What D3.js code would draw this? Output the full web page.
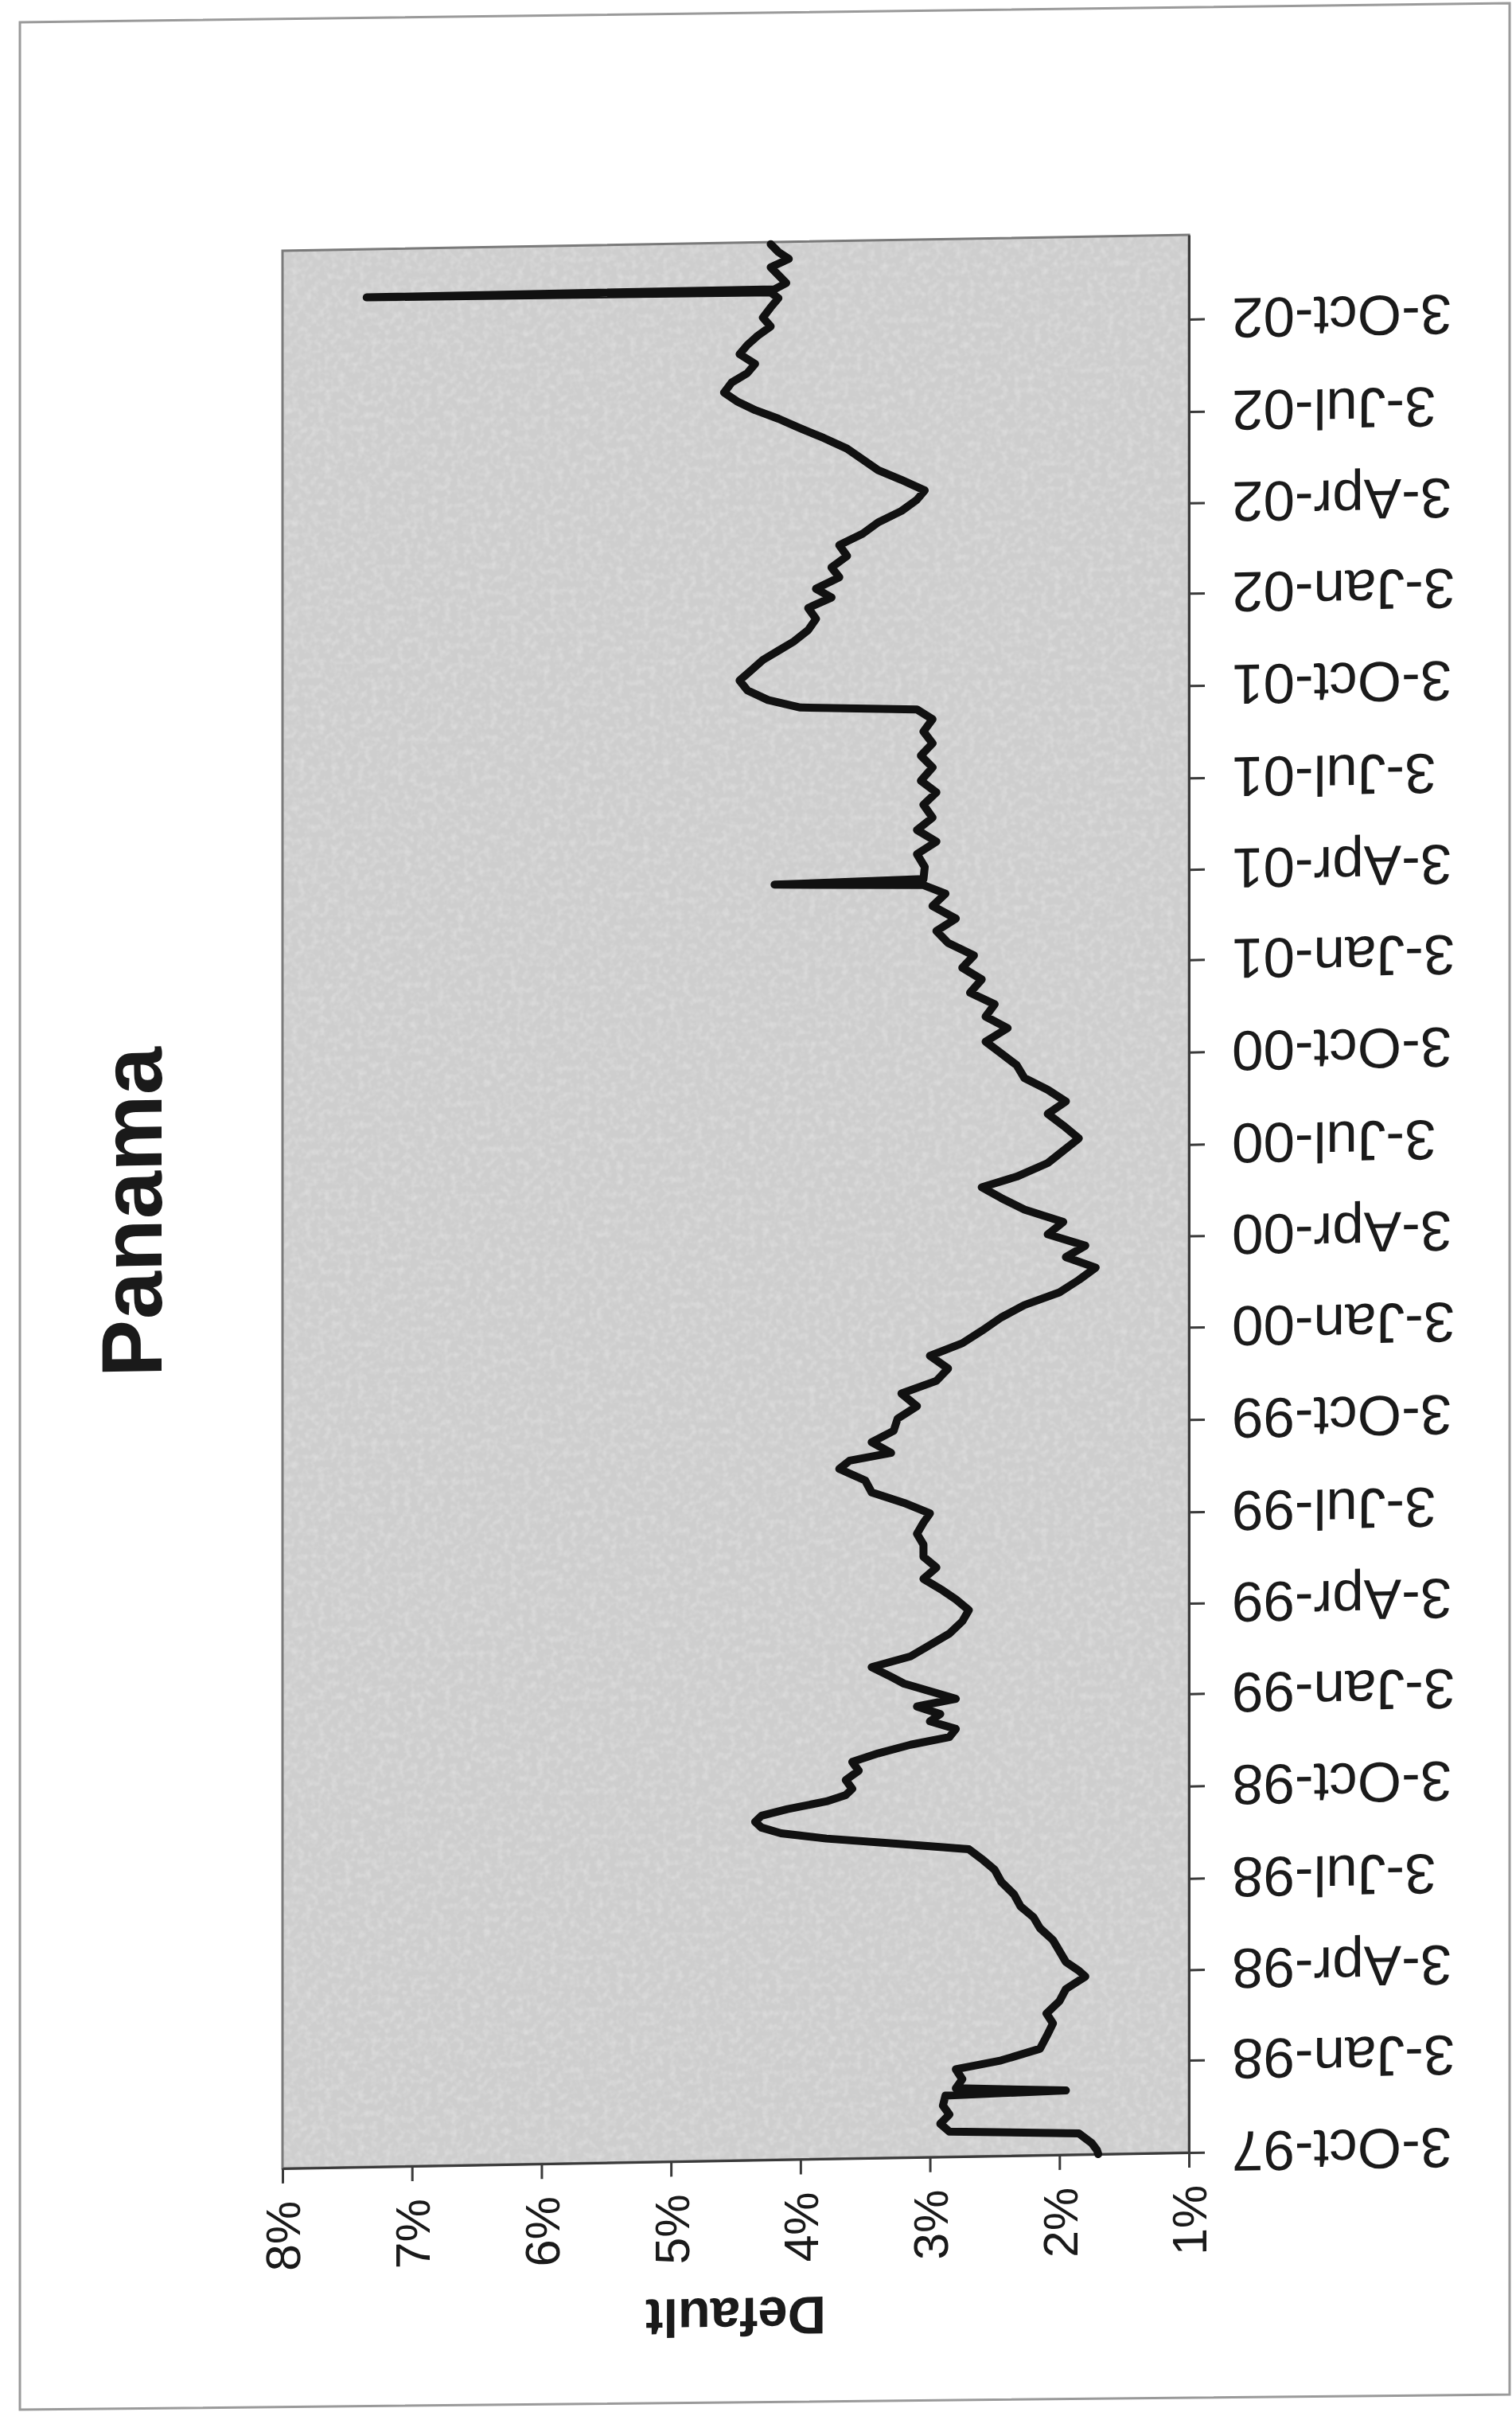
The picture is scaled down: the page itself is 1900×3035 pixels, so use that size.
<!DOCTYPE html>
<html>
<head>
<meta charset="utf-8">
<script src="https://cdn.jsdelivr.net/npm/d3@7"></script>
<style>
  html, body { margin: 0; padding: 0; background: #ffffff; }
  svg { display: block; }
  text { font-family: "Liberation Sans", Arial, sans-serif; fill: #1a1a1a; }
</style>
</head>
<body>
<svg id="chart" width="1900" height="3035"></svg>
<script>
// Daily default probability implied for Panama, Oct 1997 - Dec 2002
const dates = [
  "1997-10-03","1997-10-07","1997-10-14","1997-10-24","1997-10-28","1997-11-05","1997-11-14","1997-11-23",
  "1997-12-03","1997-12-06","1997-12-10","1997-12-19","1997-12-29","1998-01-06","1998-01-17","1998-01-29",
  "1998-02-11","1998-02-21","1998-03-05","1998-03-17","1998-03-29","1998-04-04","1998-04-13","1998-04-24",
  "1998-05-05","1998-05-17","1998-05-28","1998-06-08","1998-06-20","1998-07-03","1998-07-15","1998-07-26",
  "1998-08-05","1998-08-11","1998-08-18","1998-08-24","1998-08-30","1998-09-05","1998-09-11","1998-09-17",
  "1998-09-24","1998-09-30","1998-10-06","1998-10-15","1998-10-24","1998-11-02","1998-11-10","1998-11-18",
  "1998-11-25","1998-12-03","1998-12-11","1998-12-18","1998-12-26","1999-01-02","1999-01-10","1999-01-18",
  "1999-01-25","1999-02-04","1999-02-14","1999-02-25","1999-03-08","1999-03-20","1999-03-31","1999-04-11",
  "1999-04-20","1999-05-02","1999-05-13","1999-05-24","1999-06-05","1999-06-16","1999-06-27","1999-07-06",
  "1999-07-17","1999-07-28","1999-08-09","1999-08-21","1999-08-29","1999-09-05","1999-09-16","1999-09-27",
  "1999-10-09","1999-10-21","1999-11-03","1999-11-15","1999-11-27","1999-12-10","1999-12-22","2000-01-03",
  "2000-01-16","2000-01-28","2000-02-09","2000-02-21","2000-03-04","2000-03-15","2000-03-26","2000-04-07",
  "2000-04-19","2000-05-02","2000-05-14","2000-05-25","2000-06-04","2000-06-17","2000-06-29","2000-07-11",
  "2000-07-24","2000-08-05","2000-08-17","2000-08-29","2000-09-10","2000-09-23","2000-10-05","2000-10-17",
  "2000-10-30","2000-11-11","2000-11-23","2000-12-05","2000-12-18","2000-12-30","2001-01-11","2001-01-24",
  "2001-02-05","2001-02-17","2001-03-02","2001-03-14","2001-03-23","2001-03-26","2001-03-29","2001-04-10",
  "2001-04-23","2001-05-05","2001-05-17","2001-05-29","2001-06-11","2001-06-23","2001-07-05","2001-07-18",
  "2001-07-30","2001-08-11","2001-08-23","2001-09-04","2001-09-14","2001-09-18","2001-09-26","2001-10-06",
  "2001-10-16","2001-10-26","2001-11-05","2001-11-14","2001-11-23","2001-12-04","2001-12-15","2001-12-26",
  "2002-01-05","2002-01-14","2002-01-25","2002-02-04","2002-02-15","2002-02-26","2002-03-09","2002-03-20",
  "2002-03-31","2002-04-11","2002-04-20","2002-05-01","2002-05-11","2002-05-22","2002-06-02","2002-06-13",
  "2002-06-23","2002-07-03","2002-07-12","2002-07-21","2002-07-30","2002-08-09","2002-08-18","2002-08-27",
  "2002-09-06","2002-09-15","2002-09-24","2002-10-03","2002-10-12","2002-10-22","2002-10-31","2002-11-06",
  "2002-11-08","2002-11-09","2002-11-15","2002-11-23","2002-12-01","2002-12-09","2002-12-16","2002-12-24"
];

const defaultRates = [
  1.70, 1.71, 1.75, 1.85, 2.85, 2.92, 2.85, 2.90,
  2.88, 1.95, 2.80, 2.75, 2.80, 2.45, 2.15, 2.10,
  2.05, 2.10, 2.00, 1.95, 1.80, 1.85, 1.95, 2.00,
  2.05, 2.15, 2.20, 2.30, 2.35, 2.45, 2.50, 2.60,
  2.70, 3.20, 3.80, 4.15, 4.30, 4.35, 4.30, 4.10,
  3.80, 3.65, 3.60, 3.65, 3.55, 3.60, 3.40, 3.15,
  2.85, 2.80, 3.00, 2.92, 3.10, 2.80, 3.00, 3.20,
  3.30, 3.45, 3.15, 3.00, 2.85, 2.75, 2.70, 2.80,
  2.90, 3.05, 2.95, 3.05, 3.05, 3.10, 3.05, 3.00,
  3.20, 3.45, 3.50, 3.70, 3.62, 3.30, 3.45, 3.28,
  3.25, 3.10, 3.22, 2.95, 2.86, 3.00, 2.75, 2.60,
  2.45, 2.27, 2.00, 1.85, 1.72, 1.95, 1.80, 2.09,
  1.97, 2.27, 2.45, 2.60, 2.33, 2.09, 1.97, 1.85,
  1.97, 2.09, 1.95, 2.09, 2.27, 2.33, 2.45, 2.57,
  2.40, 2.57, 2.50, 2.69, 2.60, 2.75, 2.66, 2.86,
  2.95, 2.80, 2.98, 2.88, 3.05, 4.20, 3.05, 3.04,
  3.10, 2.95, 3.10, 2.98, 3.05, 2.95, 3.07, 2.98,
  3.07, 2.98, 3.05, 2.98, 3.10, 4.00, 4.25, 4.41,
  4.47, 4.38, 4.29, 4.17, 4.05, 3.94, 3.88, 3.94,
  3.76, 3.88, 3.70, 3.76, 3.64, 3.70, 3.52, 3.40,
  3.22, 3.10, 3.04, 3.22, 3.40, 3.52, 3.64, 3.82,
  4.00, 4.17, 4.35, 4.49, 4.59, 4.53, 4.41, 4.35,
  4.47, 4.41, 4.33, 4.23, 4.29, 4.23, 4.17, 4.23,
  7.35, 4.20, 4.11, 4.17, 4.23, 4.09, 4.17, 4.23
];

// Axis ticks
const rateTicks = [8, 7, 6, 5, 4, 3, 2, 1];
const dateTicks = [
  "1997-10-03","1998-01-03","1998-04-03","1998-07-03","1998-10-03","1999-01-03","1999-04-03",
  "1999-07-03","1999-10-03","2000-01-03","2000-04-03","2000-07-03","2000-10-03","2001-01-03",
  "2001-04-03","2001-07-03","2001-10-03","2002-01-03","2002-04-03","2002-07-03","2002-10-03"
];
const dateDomain = ["1997-10-03", "2002-12-26"];

const titleText = "Panama";
const rateAxisTitle = "Default";

const parse = d3.timeParse("%Y-%m-%d");
const fmtDate = d3.timeFormat("%-d-%b-%y");
const series = dates.map((d, i) => ({ date: parse(d), value: defaultRates[i] }));

// Layout: the chart is laid out sideways, value axis along the bottom, time running upward
const plot = { left: 355, right: 1494, top: 295, bottom: 2704 };

const svg = d3.select("#chart");

// faint paper grain for the plot background
const defs = svg.append("defs");
const grain = defs.append("filter").attr("id", "grain")
  .attr("x", 0).attr("y", 0).attr("width", 1).attr("height", 1);
grain.append("feTurbulence").attr("type", "fractalNoise")
  .attr("baseFrequency", 0.12).attr("numOctaves", 2).attr("seed", 7).attr("result", "noise");
grain.append("feColorMatrix").attr("in", "noise").attr("type", "matrix")
  .attr("values", "0 0 0 0 1  0 0 0 0 1  0 0 0 0 1  0 0 0 -0.5 0.3")
  .attr("result", "dots");
grain.append("feComposite").attr("in", "dots").attr("in2", "SourceGraphic").attr("operator", "in").attr("result", "mask");
grain.append("feMerge").call(m => {
  m.append("feMergeNode").attr("in", "SourceGraphic");
  m.append("feMergeNode").attr("in", "mask");
});

svg.append("rect").attr("width", 1900).attr("height", 3035).attr("fill", "#ffffff");

// outer frame
svg.append("path")
  .attr("d", "M25,28 L1897,4 L1897,3008 L25,3027 Z")
  .attr("fill", "none").attr("stroke", "#9a9a9a").attr("stroke-width", 3);

const root = svg.append("g").attr("transform", "translate(0,26.1) skewY(-1)");

const x = d3.scaleLinear().domain([8, 1]).range([plot.left, plot.right]);
const y = d3.scaleTime().domain(dateDomain.map(parse)).range([plot.bottom, plot.top]);

// plot area
root.append("rect")
  .attr("x", plot.left).attr("y", plot.top)
  .attr("width", plot.right - plot.left).attr("height", plot.bottom - plot.top)
  .attr("fill", "#cecece")
  .attr("filter", "url(#grain)");
root.append("rect")
  .attr("x", plot.left).attr("y", plot.top)
  .attr("width", plot.right - plot.left).attr("height", plot.bottom - plot.top)
  .attr("fill", "none").attr("stroke", "#7a7a7a").attr("stroke-width", 3);

// value axis (bottom)
const xAxis = root.append("g")
  .attr("transform", `translate(0,${plot.bottom})`)
  .call(d3.axisBottom(x).tickValues(rateTicks).tickFormat(d => d + "%").tickSize(19).tickSizeOuter(0));
xAxis.select(".domain").attr("stroke", "#3a3a3a").attr("stroke-width", 3);
xAxis.selectAll(".tick line").attr("stroke", "#3a3a3a").attr("stroke-width", 3);
xAxis.selectAll(".tick text")
  .attr("transform", "rotate(-90)")
  .attr("x", -41).attr("y", 0).attr("dy", "0.36em")
  .attr("text-anchor", "end")
  .attr("font-size", 61).attr("fill", "#1a1a1a");

// time axis (right)
const yAxis = root.append("g")
  .attr("transform", `translate(${plot.right},0)`)
  .call(d3.axisRight(y).tickValues(dateTicks.map(parse)).tickFormat(fmtDate).tickSize(20).tickSizeOuter(0));
yAxis.select(".domain").attr("stroke", "#3a3a3a").attr("stroke-width", 3);
yAxis.selectAll(".tick line").attr("stroke", "#3a3a3a").attr("stroke-width", 3);
yAxis.selectAll(".tick text")
  .attr("x", 0)
  .attr("transform", "translate(54,0) rotate(180)")
  .attr("y", 0).attr("dy", "0.36em")
  .attr("text-anchor", "end")
  .attr("font-size", 71).attr("fill", "#1a1a1a");

root.selectAll(".tick text").attr("font-family", "'Liberation Sans', Arial, sans-serif");

// series line
const line = d3.line().x(d => x(d.value)).y(d => y(d.date)).curve(d3.curveLinear);
root.append("path")
  .datum(series)
  .attr("d", line)
  .attr("fill", "none")
  .attr("stroke", "#111111")
  .attr("stroke-width", 10)
  .attr("stroke-linejoin", "round")
  .attr("stroke-linecap", "round");

// chart title
root.append("text")
  .attr("transform", `translate(203,${(plot.top + plot.bottom) / 2}) rotate(-90)`)
  .attr("text-anchor", "middle")
  .attr("font-size", 108).attr("font-weight", "bold")
  .text(titleText);

// value axis title
root.append("text")
  .attr("transform", `translate(${(plot.left + plot.right) / 2},2877) rotate(180)`)
  .attr("text-anchor", "middle")
  .attr("font-size", 67).attr("font-weight", "bold")
  .text(rateAxisTitle);
</script>
</body>
</html>
